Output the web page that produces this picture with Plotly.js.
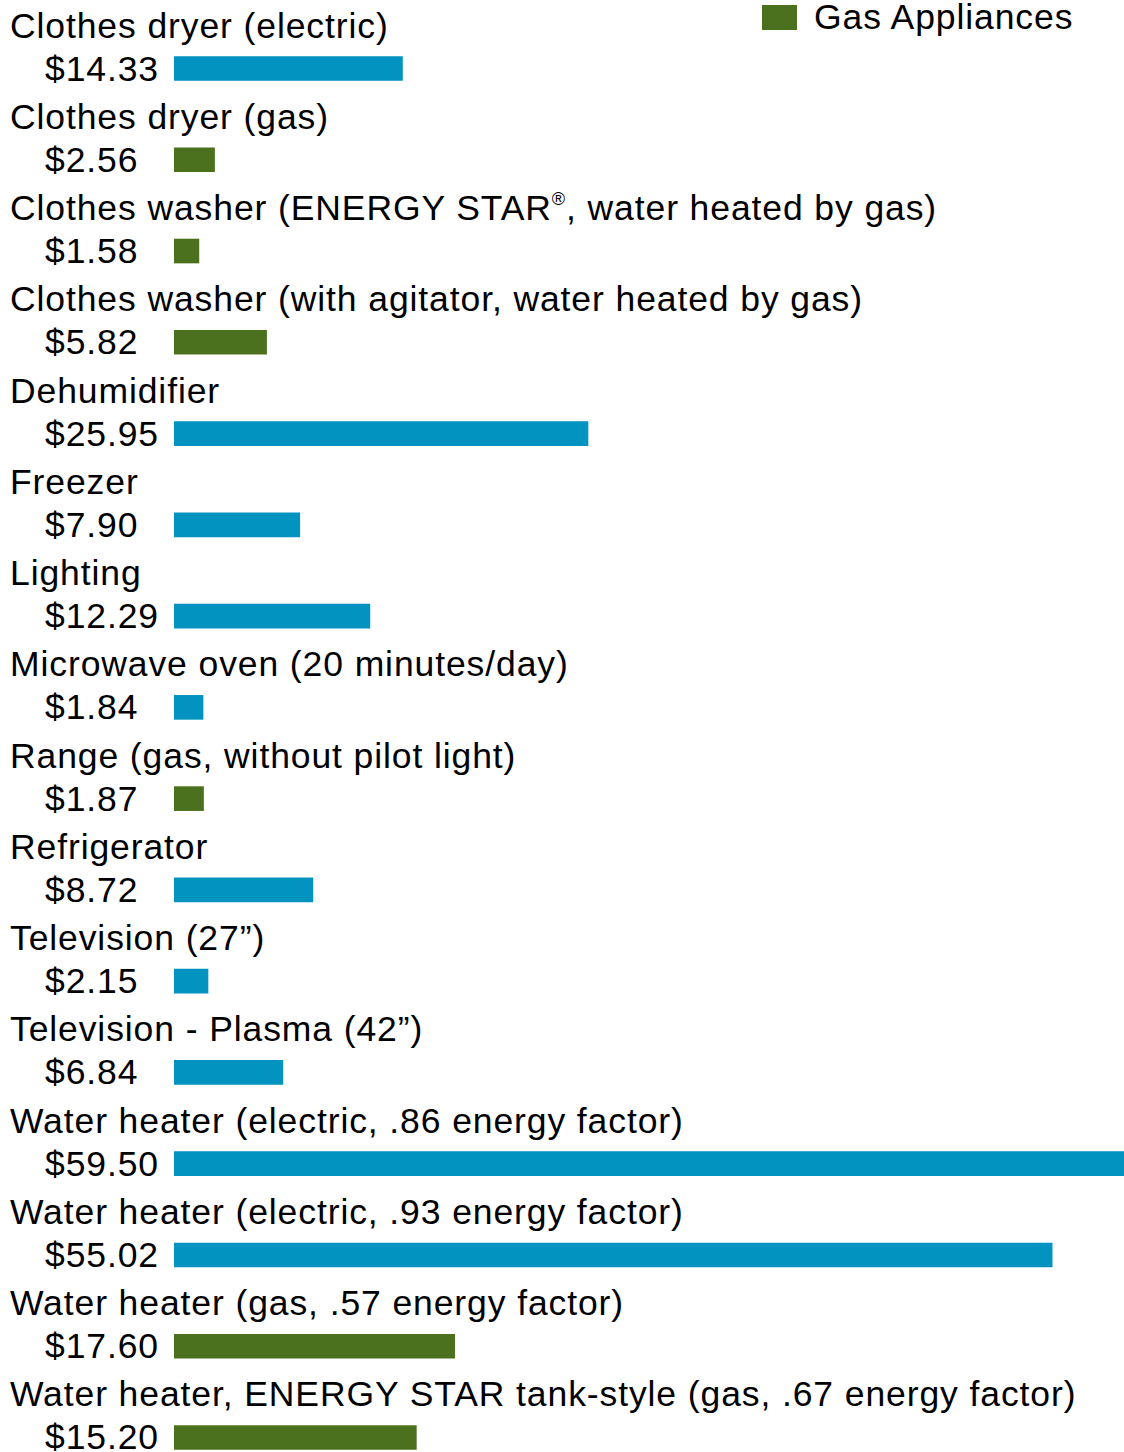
<!DOCTYPE html>
<html>
<head>
<meta charset="utf-8">
<script src="https://cdn.plot.ly/plotly-3.0.1.min.js"></script>
<style>html,body{margin:0;padding:0;background:#fff;}#chart{width:1124px;height:1452px;}
.annotation-text{letter-spacing:0.9px;}</style>
</head>
<body>
<div id="chart"></div>
<script>
const categories = [
  "Clothes dryer (electric)",
  "Clothes dryer (gas)",
  "Clothes washer (ENERGY STAR<sup><span style=\"font-size:18px\">®</span></sup>, water heated by gas)",
  "Clothes washer (with agitator, water heated by gas)",
  "Dehumidifier",
  "Freezer",
  "Lighting",
  "Microwave oven (20 minutes/day)",
  "Range (gas, without pilot light)",
  "Refrigerator",
  "Television (27”)",
  "Television - Plasma (42”)",
  "Water heater (electric, .86 energy factor)",
  "Water heater (electric, .93 energy factor)",
  "Water heater (gas, .57 energy factor)",
  "Water heater, ENERGY STAR tank-style (gas, .67 energy factor)"
];
const costs = [14.33, 2.56, 1.58, 5.82, 25.95, 7.90, 12.29, 1.84, 1.87, 8.72, 2.15, 6.84, 59.50, 55.02, 17.60, 15.20];
const isGas = [false, true, true, true, false, false, false, false, true, false, false, false, false, false, true, true];
const legendLabel = "Gas Appliances";

const BLUE = "#0293c0", GREEN = "#4b701e";
const ids = categories.map((c, i) => "c" + i);

const elecY = [], elecX = [], gasY = [], gasX = [];
categories.forEach((c, i) => {
  if (isGas[i]) { gasY.push(ids[i]); gasX.push(costs[i]); }
  else { elecY.push(ids[i]); elecX.push(costs[i]); }
});

const traces = [
  {type: "bar", orientation: "h", y: elecY, x: elecX, marker: {color: BLUE}, width: 0.27, showlegend: false, hoverinfo: "x"},
  {type: "bar", orientation: "h", y: gasY, x: gasX, marker: {color: GREEN}, width: 0.27, name: legendLabel, showlegend: false, hoverinfo: "x"}
];

const FONT = {family: "Liberation Sans, Arial, sans-serif", size: 35.5, color: "#000"};
const annotations = [];
const L = 174, W = 950;
categories.forEach((c, i) => {
  annotations.push({xref: "paper", yref: "y", x: (8 - L) / W, y: ids[i], xanchor: "left", yanchor: "middle",
    yshift: 43, text: c, showarrow: false, font: FONT});
  annotations.push({xref: "paper", yref: "y", x: (43 - L) / W, y: ids[i], xanchor: "left", yanchor: "middle",
    yshift: 0, text: "$" + costs[i].toFixed(2), showarrow: false, font: FONT});
});
annotations.push({xref: "paper", yref: "paper", x: (812 - L) / W, y: 1 - 17 / 1452, xanchor: "left", yanchor: "middle",
  text: legendLabel, showarrow: false, font: FONT});

const layout = {
  width: 1124, height: 1452,
  margin: {l: L, r: 0, t: 0, b: 0, pad: 0},
  paper_bgcolor: "#fff", plot_bgcolor: "#fff",
  barmode: "overlay",
  showlegend: false,
  xaxis: {range: [0, 59.5], visible: false, fixedrange: true},
  yaxis: {type: "category", categoryorder: "array", categoryarray: ids, range: [15.159, -0.7505],
    visible: false, fixedrange: true},
  annotations: annotations,
  shapes: [{type: "rect", xref: "paper", yref: "paper", x0: (762 - L) / W, x1: (797 - L) / W,
    y0: 1 - 30 / 1452, y1: 1 - 5 / 1452, fillcolor: GREEN, line: {width: 0}}]
};

Plotly.newPlot("chart", traces, layout, {displayModeBar: false, staticPlot: true});
</script>
</body>
</html>
